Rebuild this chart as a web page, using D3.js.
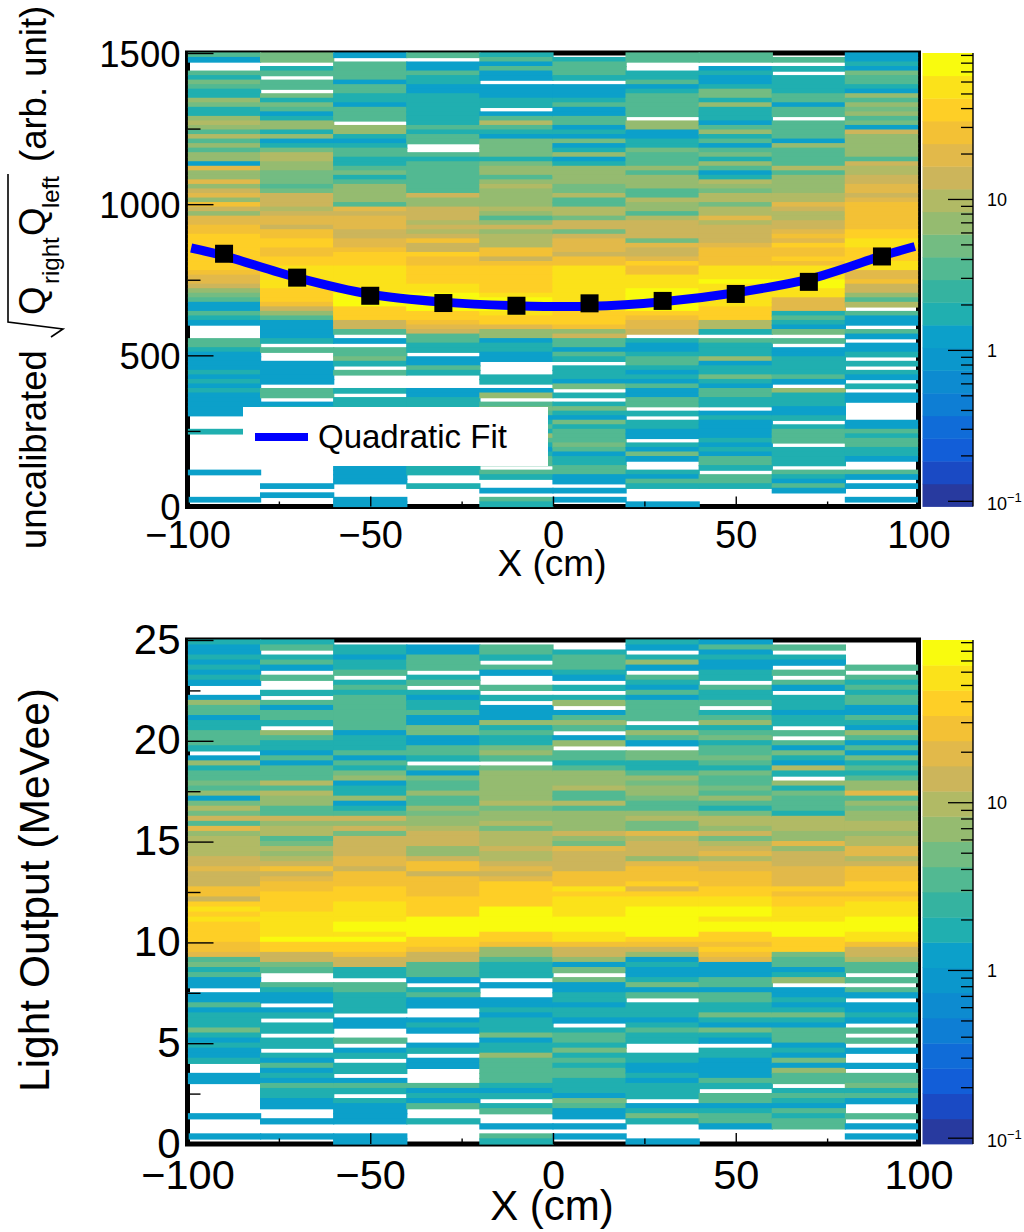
<!DOCTYPE html>
<html>
<head>
<meta charset="utf-8">
<script src="https://cdn.jsdelivr.net/npm/d3@7"></script>
<style>html,body{margin:0;padding:0;background:#fff}svg{display:block}text{font-family:"Liberation Sans",Arial,sans-serif;fill:#000}</style>
</head>
<body>
<svg id="c" width="1024" height="1232"></svg>
<script>
// Colour bands, bottom to top
const palette = ["#283a9f","#1a4ac4","#125ed8","#106cd8","#0e7ed4","#0d8bd0","#0b97cc","#0ca0ca","#20afb0","#35b3a0","#52b992","#73bc82","#95bb70","#b1ba65","#ccb55b","#e2b94a","#f3c135","#fecf26","#fbe21a","#f9fb0e"];
const zRange = [0.0917, 92.7];
// Count letter codes ('.' = empty bin)
const cellCounts = {b:1.2,t:1.7,g:3.4,h:4.8,i:6.8,j:9.7,k:13.6,l:19,m:27,n:38,o:54,p:77};
// Top panel: one string per X bin (-100..100), rows from top (1500) to bottom (0)
const topColumns = [
"gb..gthgtt ihttijigjg igiibliili klimkillmm nnnnnnnnml lkihgbbgtb ...ggtbbbb tbtbtbbbbb ...t...... ..b.....b.",
"hh.tg.gg.h thgbtiitib thjjiihhhg hkkkjkllkm mnnmmnnooo oonnnmkigb bbbt.g..bb bbb.gg.btt .......... .....b.b..",
"b.ggggbggt tbggg.iitb tggttghtgi iiiglklllk kllmnnnooo ooopppnnnk kg.b.gght. g...t.tt.. .......... .bbbb...bb",
"g.bbgttbbt ttttttgtgg ..gtgggggg gkiikkkjkj kmkknmmnnn nooppppnnm lkggtt.bbg t...bbtt.. .......... .tt..t....",
"tgbgbb.bbb tt.bgjgtbh hhhthiigij iiiijigiki jjjmmkmnnn nnnoppponn liibttbb.. .tt.bi.ghg btgtigtbtg g.gt..b.gt",
".tgggt.bbb tgbbggbtbh btibtiiiih hjggjjhkkh klllkmmooo ooooooonnn mikggbgt.t ttbh.t.tht bhtggghgbt tggbb.b.b.",
"gg..ttgbtg gggg.iibbt thgggigiii ggjiigjkkk khlkklnmmo oopppppnml lk.tbbtggt btbgbbgg.t .ttbb.tbhb ..tbgt...b",
"gg.btbbthh titttbgitg bghtigbtji hjjhjjljkk kklmmmmooo pooooonnnj jt.gtttibt thtbggtt.b tbbbbtbtbg gt.ggt....",
".g.t.ttttg gbgg.ggggb iggggjgiii ijjlkjjkkl mlnmmnmooo ppoollltgt bh.g.bbttt tgb.itttbb t.tggg.ttt t.gtbgb...",
"bbtbhggtbi gihighbkii iiigkjjkkl lklmmmmmmn noonnnooll mkkigj.gbb .gb.bbt.t. tb.t.bb... .bbgtggttb ..gb.b..b."
];
// Bottom panel: same layout, rows from 25 down to 0
const bottomColumns = [
"tbbtbtbtb. .biggbttgg gt.bitgghg ibhjhkglij jjjkklkkkm mknononnnn mmlghtgbb. bbgbttthtb tbbt..bb.. ....b...b.",
"tg.tgb.g.. t.gbggt.ig ttbgbgggjg jiiggkijjg hjijkmklmm nnnnooooop nnkkhg..gt bb.bt.tt.t t.tbgbtbgt tbb..b..b.",
".ttbttg.tg tgggggggbt ttgbgthibt tibtgkikhk kkkllkmmmn nnooooppop nnmkktt.gg tttt.bb..g .bt.tt.bgt .tbbbb..bb",
".bbggg.tg. tbttgbbhhb bggt.gbhgg iggihiijkk kiikmmkmmm mnnnnppppn nmkkgggb.t gbb..btb.. bt.bb...gb tbg..t....",
".ggt.gb..g .t.bbbitgt thig.hiiii iijhiijhjj jkjjklklnn nnnpppppnn miigttt.b. .bbtbttthb ttigggggtb t.tg..b.gt",
"..tgggtb.t .ti.bgig.b i.ggtgiiij ggjgiiiiki hlkkkkmmmo noooopppoo mkkibh.hbb ttbttb.tgg thtgtggttt bhgbb.b.b.",
"tb.tib.gtb gbgggg.tig b.hhttgihi ihggijhhlj kkkilmmmnl nooppppppn mkibtbbthb g.tttbtgtt ..ttbbtbtt t.btht...b",
"bgbtbbtt.g ttg.tgitgh tgghgthggh gigthjjikh jkljllmmmn nooppoppnn mnmlbbbggb ggtthtbhtb .ttbbbbgt. ggbtggb...",
".g.tb.g.gb .tttbtt.g. gbhtbjt.it hgggtjjjii likkkllll n mnnooopppn nnhggbti.b btbthtbggg btbhbigg.t gtbgtgg...",
".....g.gtg tggbbgtbig bgbhtgtgii lgihiijjij jlljkmmmnn mnooopppoo mkkjgg.g.g b.bbtb.g.g .b..b.gght gb..g.b.b."
];
// Fit profile points on the top panel
const profileX = [-90,-70,-50,-30,-10,10,30,50,70,90];
const profileY = [836,757,697,673,664,672,680,703,743,827];
const fitX = [-99,-90,-70,-50,-30,-10,10,30,50,70,90,99];
const fitY = [855,829,757,702,676,664,662,677,707,752,829,860];
const legendLabel = "Quadratic Fit";
const xTicks = [-100,-50,0,50,100];
const xMinor = [-75,-25,25,75];
const topYTicks = [0,500,1000,1500];
const topYMinor = [250,750,1250];
const bottomYTicks = [0,5,10,15,20,25];
const bottomYMinor = [2.5,7.5,12.5,17.5,22.5];
const barMajor = [0.1,1,10];
const barMinor = [0.2,0.3,0.4,0.5,0.6,0.7,0.8,0.9,2,3,4,5,6,7,8,9,20,30,40,50,60,70,80,90];

const svg = d3.select("#c");
const zBand = d3.scaleLog().domain(zRange).range([0,palette.length]);
const colorOf = v => palette[Math.min(palette.length-1, Math.max(0, Math.floor(zBand(v))))];

function panel(o){
  const g = svg.append("g");
  const x = d3.scaleLinear().domain([-100,100]).range([187.5,918.5]);
  const y = d3.scaleLinear().domain([0,o.yMax]).range([o.bottom,o.top]);
  g.append("rect").attr("x",x(-100)).attr("y",o.top).attr("width",x(100)-x(-100)).attr("height",o.bottom-o.top)
    .attr("fill","#fff").attr("stroke","#000").attr("stroke-width",5);
  const rowH = o.yMax/100;
  const cells = [];
  o.columns.forEach((s,c)=>{
    const chars = s.replace(/ /g,"");
    for(let r=0;r<chars.length;r++){
      if(chars[r]==="." ) continue;
      cells.push({c,r,v:cellCounts[chars[r]]});
    }
  });
  const pad = 0.6;
  g.append("g").selectAll("rect").data(cells).join("rect")
    .attr("x",d=>x(-100+20*d.c)-pad+(d.c===0?1:0))
    .attr("width",d=>x(-80+20*d.c)-x(-100+20*d.c)+2*pad-(d.c===0?1:0)-(d.c===9?1:0))
    .attr("y",d=>y(o.yMax-rowH*d.r)-pad)
    .attr("height",d=>y(o.yMax-rowH*(d.r+1))-y(o.yMax-rowH*d.r)+2*pad)
    .attr("fill",d=>colorOf(d.v));

  const xAxisMajor = d3.axisBottom(x).tickValues(xTicks).tickSize(-o.xTick).tickPadding(0).tickFormat(d3.format("d"));
  const gx = g.append("g").attr("transform",`translate(0,${o.bottom})`).call(xAxisMajor);
  gx.selectAll("text").attr("y",o.xLabelDy).attr("dy",0).style("font-size",o.xFont+"px").attr("text-anchor","middle");
  g.append("g").attr("transform",`translate(0,${o.bottom})`).call(d3.axisBottom(x).tickValues(xMinor).tickSize(-o.xTick/2).tickFormat(""));
  const gy = g.append("g").attr("transform",`translate(${x(-100)},0)`)
    .call(d3.axisLeft(y).tickValues(o.yTicks).tickSize(-26).tickPadding(0).tickFormat(d3.format("d")));
  gy.selectAll("text").attr("x",-7).attr("dy",13).style("font-size",o.yFont+"px");
  g.append("g").attr("transform",`translate(${x(-100)},0)`).call(d3.axisLeft(y).tickValues(o.yMinor).tickSize(-13).tickFormat(""));
  g.selectAll(".domain").remove();
  g.selectAll(".tick line").attr("stroke","#000").attr("stroke-width",1.4);
  g.append("text").attr("x",552).attr("y",o.titleY).attr("text-anchor","middle").style("font-size",o.titleFont+"px").text("X (cm)");

  // palette bar
  const bx0 = 922.5, bx1 = 973;
  const barY = d3.scaleLog().domain(zRange).range([o.bottom,o.top]);
  const bands = palette.map((col,i)=>({col,lo:zBand.invert(i),hi:zBand.invert(i+1)}));
  g.append("g").selectAll("rect").data(bands).join("rect")
    .attr("x",bx0).attr("width",bx1-bx0)
    .attr("y",d=>barY(d.hi)).attr("height",d=>barY(d.lo)-barY(d.hi)+0.4)
    .attr("fill",d=>d.col);
  const bar = g.append("g").attr("transform",`translate(${bx1},0)`);
  bar.append("g").call(d3.axisLeft(barY).tickValues(barMajor).tickSize(25).tickFormat(""));
  bar.append("g").call(d3.axisLeft(barY).tickValues(barMinor).tickSize(12).tickFormat(""));
  bar.selectAll(".domain").remove();
  bar.selectAll(".tick line").attr("stroke","#000").attr("stroke-width",1.3);
  bar.append("line").attr("x1",0).attr("x2",0).attr("y1",o.top).attr("y2",o.bottom).attr("stroke","#000").attr("stroke-width",1.4);
  g.append("text").attr("x",987).attr("y",barY(10)+7).style("font-size","18px").text("10");
  g.append("text").attr("x",987).attr("y",barY(1)+7).style("font-size","18px").text("1");
  const t = g.append("text").attr("x",987).attr("y",barY(0.1)+9).style("font-size","18px");
  t.append("tspan").text("10");
  t.append("tspan").attr("dy",-8).style("font-size","13px").text("\u22121");
  return {x,y};
}

const topPanel = panel({columns:topColumns,top:53,bottom:506.5,yMax:1500,yTicks:topYTicks,yMinor:topYMinor,xTick:10,
  xLabelDy:41,xFont:38,yFont:36.5,titleY:576,titleFont:37});
const bottomPanel = panel({columns:bottomColumns,top:640,bottom:1144,yMax:25,yTicks:bottomYTicks,yMinor:bottomYMinor,xTick:11,
  xLabelDy:45,xFont:41.5,yFont:42,titleY:1220,titleFont:42});

// Fit curve, points, legend on the top panel
const fitLine = d3.line().x((d,i)=>topPanel.x(fitX[i])).y(d=>topPanel.y(d)).curve(d3.curveCatmullRom);
svg.append("path").attr("d",fitLine(fitY)).attr("fill","none").attr("stroke","#0000ff").attr("stroke-width",9);
svg.append("g").selectAll("rect").data(profileY).join("rect")
  .attr("x",(d,i)=>topPanel.x(profileX[i])-9).attr("y",d=>topPanel.y(d)-9).attr("width",18).attr("height",18).attr("fill","#000");
svg.append("rect").attr("x",243).attr("y",407).attr("width",305).attr("height",59).attr("fill","#fff");
svg.append("line").attr("x1",255).attr("x2",308).attr("y1",437).attr("y2",437).attr("stroke","#0000ff").attr("stroke-width",8);
svg.append("text").attr("x",318).attr("y",448).style("font-size","33px").text(legendLabel);

// Y titles
function vtext(x,y,size,str){
  svg.append("text").attr("transform",`translate(${x},${y}) rotate(-90)`).style("font-size",size+"px").text(str);
}
vtext(46,549,36.5,"uncalibrated");
vtext(45,315,36.5,"Q");
vtext(59,284,24,"right");
vtext(45,236,36.5,"Q");
vtext(59,208,24,"left");
vtext(46,162,36.5,"(arb. unit)");
svg.append("path").attr("d","M8,174L8,322L63,329L51,337").attr("fill","none").attr("stroke","#000").attr("stroke-width",1.6);
svg.append("text").attr("transform","translate(49,890) rotate(-90)").attr("text-anchor","middle").style("font-size","42.5px").text("Light Output (MeVee)");
</script>
</body>
</html>
